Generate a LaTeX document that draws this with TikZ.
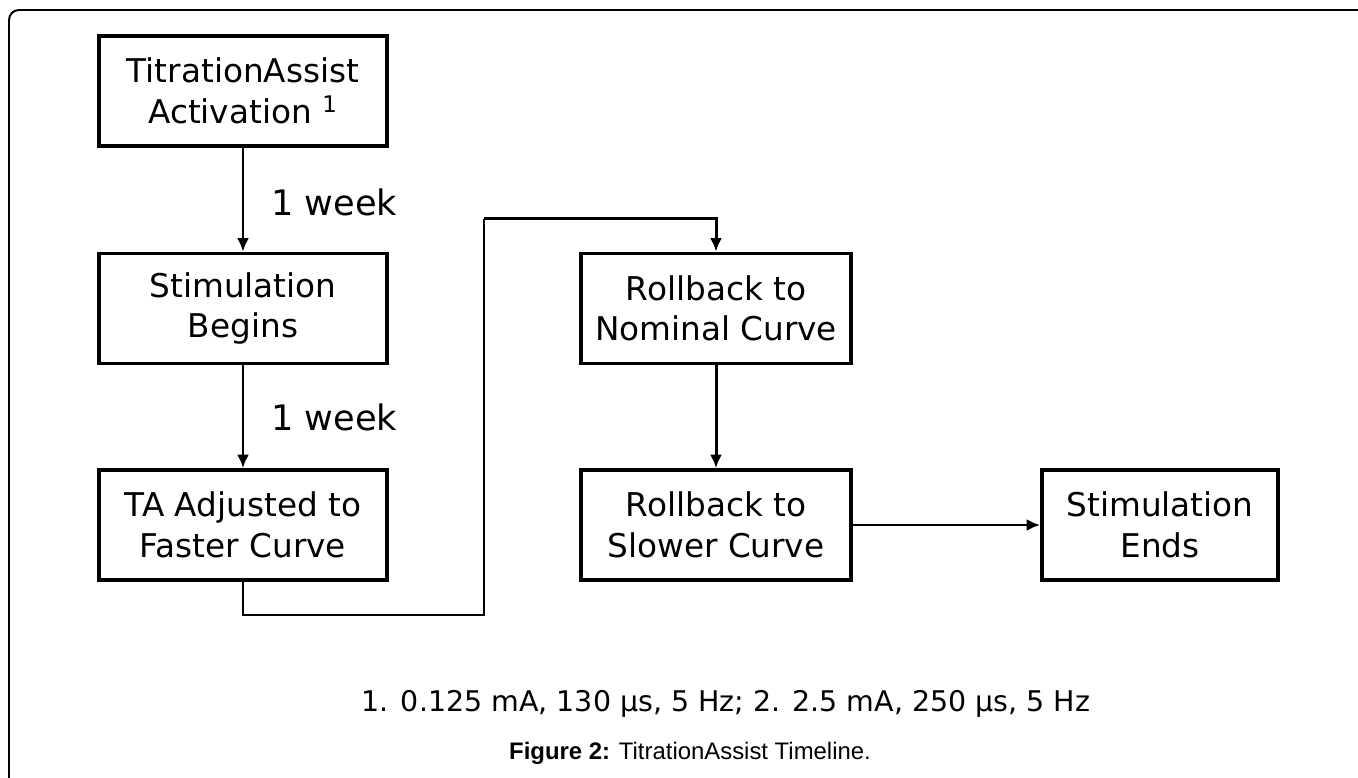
\documentclass[tikz,border=0pt]{standalone}
\usepackage{fontspec}
\setmainfont{DejaVu Sans}
\newfontfamily\capfont{Liberation Sans}
\usetikzlibrary{arrows.meta}

\begin{document}
\begin{tikzpicture}[
		stagebox/.style={draw, line width=2.1pt, align=center, inner sep=0pt, minimum height=2.2cm, font=\fontsize{18.6}{23}\selectfont},
		conn/.style={line width=1.7pt, -{Latex[length=0.27cm,width=0.24cm]}},
		plain/.style={line width=1.7pt},
		weeklabel/.style={anchor=west, font=\fontsize{20}{24}\selectfont}
	]
		\useasboundingbox (0,0) rectangle (27.16,15.56);
		% frame: only top and left edges are seen
		\draw[line width=1.1pt, rounded corners=0.2cm] (0.18,0) -- (0.18,15.36) -- (27.16,15.36);

		% left column
		\node[stagebox, minimum width=5.76cm] (activation) at (4.86,13.74) {TitrationAssist\\Activation \textsuperscript{1}};
		\node[stagebox, minimum width=5.76cm] (begins) at (4.86,9.39) {Stimulation\\Begins};
		\node[stagebox, minimum width=5.76cm] (faster) at (4.86,5.06) {TA Adjusted to\\Faster Curve};

		% right part
		\node[stagebox, minimum width=5.4cm] (nominal) at (14.32,9.39) {Rollback to\\Nominal Curve};
		\node[stagebox, minimum width=5.4cm] (slower) at (14.32,5.06) {Rollback to\\Slower Curve};
		\node[stagebox, minimum width=4.72cm] (ends) at (23.20,5.06) {Stimulation\\Ends};

		\node[weeklabel] (week1) at (5.3,11.52) {1 week};
		\node[weeklabel] (week2) at (5.3,7.22) {1 week};

		\draw[conn] (activation) -- (begins);
		\draw[conn] (begins) -- (faster);
		\coordinate (bendlow) at (9.68,3.26);
		\coordinate (bendhigh) at (9.68,11.18);
		\draw[plain] (faster.south) |- (bendlow) -- (bendhigh);
		\draw[conn] (bendhigh) -| (nominal.north);
		\draw[conn] (nominal) -- (slower);
		\draw[conn] (slower) -- (ends);

		% footnote and caption
		\node[anchor=base, font=\fontsize{16.2}{18}\selectfont] (footnote) at (14.52,1.32) {1. 0.125 mA, 130 µs, 5 Hz; 2. 2.5 mA, 250 µs, 5 Hz};
		\node[anchor=base, font=\capfont\fontsize{13.6}{15}\selectfont] (caption) at (13.8,0.36) {\textbf{Figure 2:} TitrationAssist Timeline.};
	\end{tikzpicture}
\end{document}
